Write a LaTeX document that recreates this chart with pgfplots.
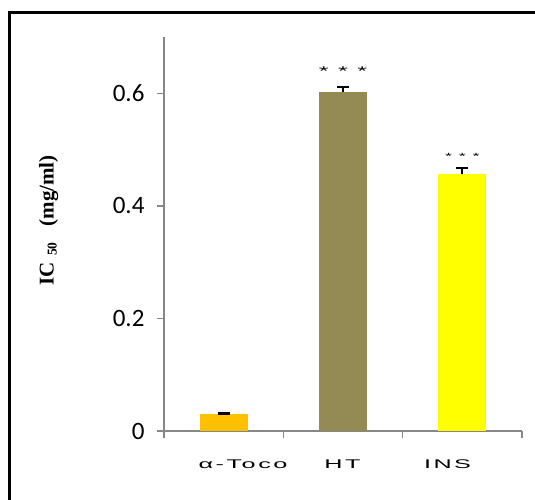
\documentclass[border=0pt]{standalone}
\usepackage{pgfplots}
\pgfplotsset{compat=1.18}
\usepackage{graphicx}
\usepackage{fontspec}
\setmainfont{Liberation Serif}
\newfontfamily\carlito{Carlito}
\newfontfamily\arial[LetterSpace=10]{Liberation Sans}
\definecolor{axgray}{HTML}{878787}
\definecolor{toco}{HTML}{FFC000}
\definecolor{htc}{HTML}{948A54}
\definecolor{insc}{HTML}{FFFF00}
\newcommand\sxl[1]{\scalebox{2}[1]{#1}}
\begin{document}
\begin{tikzpicture}[x=1pt,y=1pt]
\useasboundingbox (0,0) rectangle (535,499);
\draw[line width=2.5pt] (9.5,-20) -- (9.5,486.7) -- (560,486.7);
\begin{axis}[
  at={(164pt,68pt)}, anchor=south west,
  scale only axis, width=358pt, height=394pt,
  xmin=-0.5, xmax=2.5, ymin=0, ymax=0.7,
  axis x line=bottom, axis y line=left,
  axis line style={-, axgray, line width=1.3pt},
  every tick/.style={axgray, line width=1.3pt},
  tick align=outside,
  xtick={0.162,0.996,1.876},
  xticklabels={\sxl{α-Toco},\sxl{HT},\sxl{INS}},
  major x tick style={draw=none},
  minor xtick={-0.5,0.5,1.5,2.5},
  minor tick length=7pt,
  major tick length=7pt,
  xticklabel style={font=\arial\fontsize{12.6}{13}\selectfont, yshift=-18pt},
  ytick={0,0.2,0.4,0.6},
  yticklabels={0,0.2,0.4,0.6},
  yticklabel style={font=\carlito\fontsize{25}{26}\selectfont, xshift=-9pt},
  ylabel={\fontsize{21}{22}\selectfont\bfseries IC\hspace{6pt}\raisebox{-3pt}{\fontsize{13.5}{14}\selectfont 50}\hspace{16pt}(mg/ml)},
  ylabel style={at={(axis description cs:-0.322,0.535)}, anchor=center},
  ybar, bar width=48pt,
  error bars/error bar style={black, line width=2.2pt},
  error bars/error mark options={black, line width=2.6pt, mark size=6pt, rotate=90},
  clip=false,
]
\addplot[fill=toco, draw=none, bar shift=0pt,
  error bars/.cd, y dir=plus, y explicit]
  coordinates {(0,0.030) +- (0,0.001)};
\addplot[fill=htc, draw=none, bar shift=0pt,
  error bars/.cd, y dir=plus, y explicit]
  coordinates {(1,0.603) +- (0,0.008)};
\addplot[fill=insc, draw=none, bar shift=0pt,
  error bars/.cd, y dir=plus, y explicit]
  coordinates {(2,0.456) +- (0,0.011)};
\node[font=\arial\fontsize{12.6}{13}\selectfont] at (axis cs:1,0.640) {\sxl{* * *}};
\node[font=\arial\fontsize{9}{10}\selectfont] at (axis cs:2,0.488) {\sxl{* * *}};
\end{axis}
\end{tikzpicture}
\end{document}
